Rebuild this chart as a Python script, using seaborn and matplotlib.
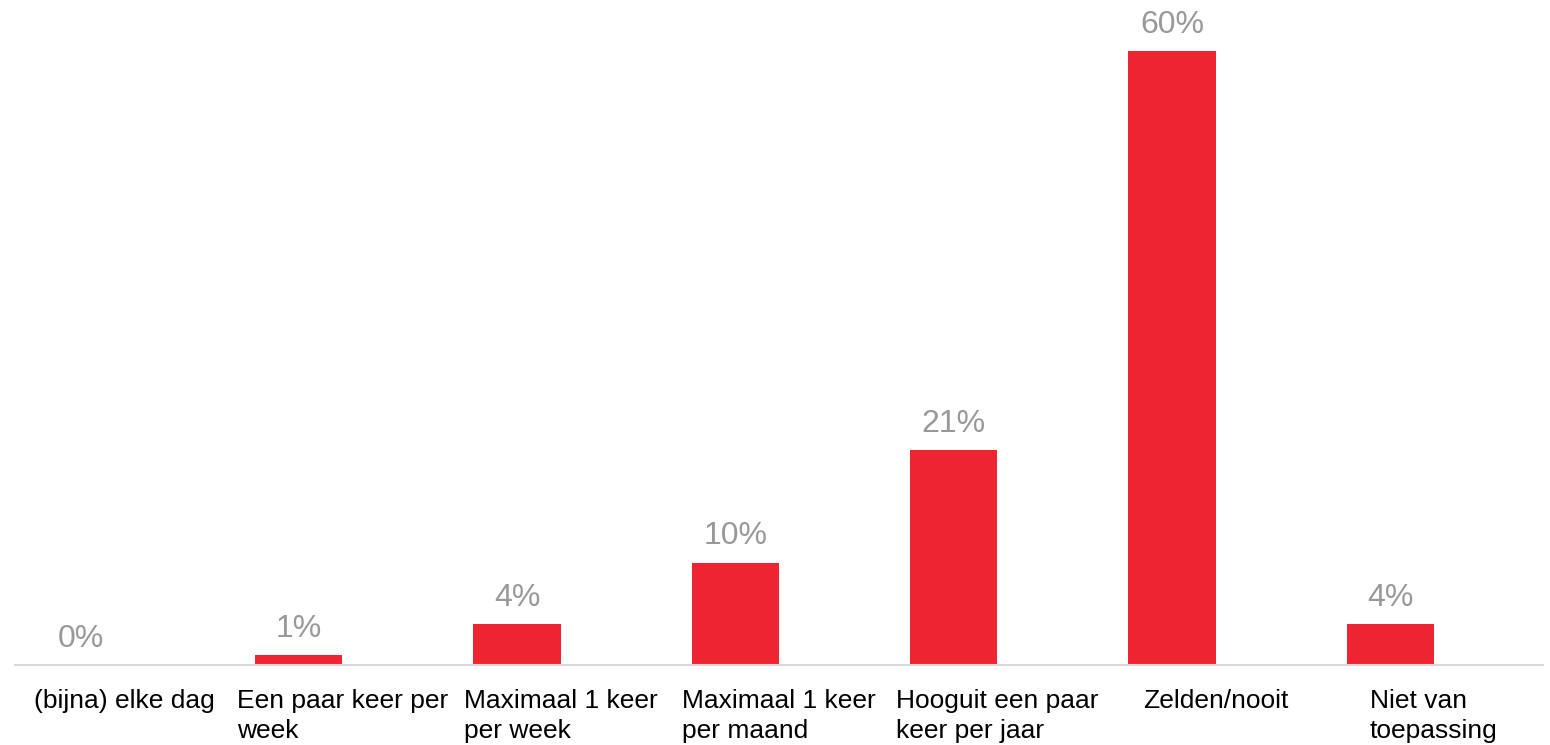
import matplotlib
matplotlib.use("Agg")
import matplotlib.pyplot as plt
import seaborn as sns
import pandas as pd

categories = [
    "(bijna) elke dag",
    "Een paar keer per\nweek",
    "Maximaal 1 keer\nper week",
    "Maximaal 1 keer\nper maand",
    "Hooguit een paar\nkeer per jaar",
    "Zelden/nooit",
    "Niet van\ntoepassing",
]
values = [0, 1, 4, 10, 21, 60, 4]
value_labels = ["0%", "1%", "4%", "10%", "21%", "60%", "4%"]

BAR_RED = "#EE2530"
LABEL_GREY = "#999999"

sns.set_theme(style="white")
plt.rcParams["font.family"] = ["Liberation Sans", "DejaVu Sans"]

df = pd.DataFrame({"cat": categories, "val": values})

fig = plt.figure(figsize=(15.5, 7.45), dpi=100)
ax = fig.add_axes([15 / 1550, 1 - 665 / 745, 1528 / 1550, 665 / 745])

sns.barplot(data=df, x="cat", y="val", color=BAR_RED, width=0.4,
            saturation=1, ax=ax)

# bars sit just left of each category centre
offset = 0.2
for p in ax.patches:
    p.set_x(p.get_x() - offset)
    p.set_linewidth(0)

for i, (v, lab) in enumerate(zip(values, value_labels)):
    ax.text(i - offset, v + 1.1, lab, ha="center", va="bottom",
            fontsize=23, color=LABEL_GREY)

ax.set_xlim(-0.5, 6.5)
ax.set_ylim(0, 65)
ax.set_xlabel("")
ax.set_ylabel("")
ax.set_yticks([])
ax.set_xticks(range(len(categories)))
ax.set_xticklabels(categories, fontsize=19, color="black",
                   multialignment="left", linespacing=1.33)
ax.tick_params(axis="x", length=0, pad=17)

for side in ["top", "left", "right"]:
    ax.spines[side].set_visible(False)
ax.spines["bottom"].set_color("#D9D9D9")
ax.spines["bottom"].set_linewidth(1.5)

fig.savefig("out.png", dpi=100, facecolor="white")
